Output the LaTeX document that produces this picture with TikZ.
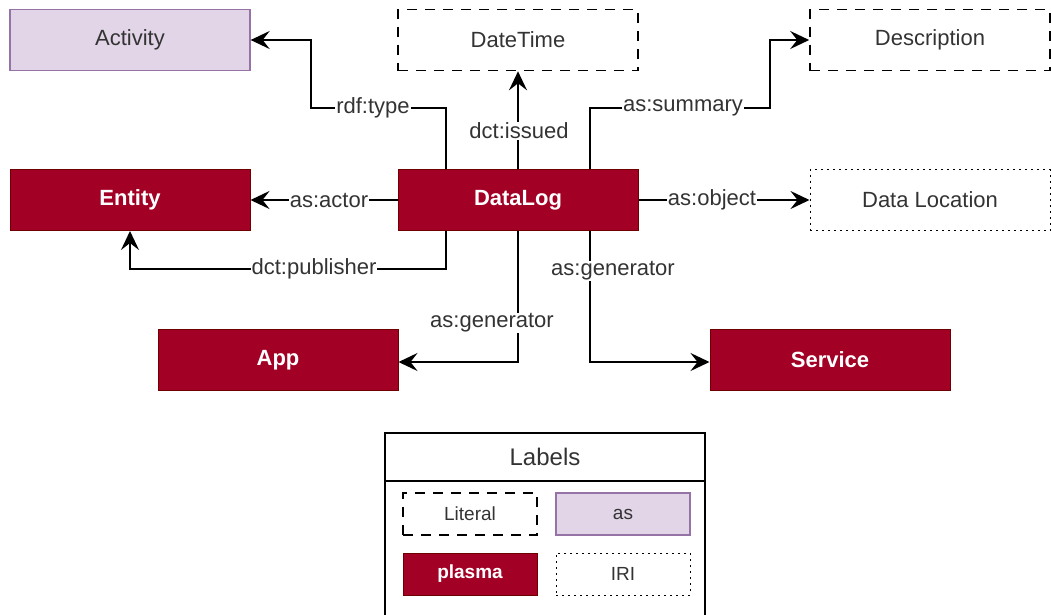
\documentclass[tikz,border=0pt]{standalone}
\usepackage{fontspec}
\setmainfont{Liberation Sans}
\usetikzlibrary{arrows.meta}

\definecolor{plasmared}{HTML}{A20025}
\definecolor{plasmaline}{HTML}{6F0000}
\definecolor{asfill}{HTML}{E1D5E7}
\definecolor{asline}{HTML}{9673A6}
\definecolor{txtgray}{HTML}{333333}

\tikzset{
	box/.style = {draw, minimum width=240pt, minimum height=61pt, inner sep=0pt,
		text=txtgray, line width=1pt, font=\fontsize{22}{26}\selectfont},
	plasma/.style = {box, fill=plasmared, draw=plasmaline, text=white,
		font=\fontsize{22}{26}\selectfont\bfseries},
	asclass/.style = {box, fill=asfill, draw=asline, line width=1.3pt},
	literal/.style = {box, dash pattern=on 10pt off 8pt, line width=1.6pt},
	iri/.style = {box, dash pattern=on 2pt off 4pt},
	lbl/.style = {fill=white, inner sep=1pt, text=txtgray, font=\fontsize{22}{26}\selectfont},
	arr/.style = {-{Stealth[length=19pt,width=18pt,inset=7pt]}, line width=2pt},
	legbox/.style = {minimum width=134pt, minimum height=42pt,
		font=\fontsize{19}{22}\selectfont},
}

\begin{document}
\begin{tikzpicture}[x=1pt, y=-1pt]
		\useasboundingbox (0,0) rectangle (1051,614);
		% classes
		\node[asclass] (act) at (130,40) {Activity};
		\node[literal] (time) at (518,40) {DateTime};
		\node[literal] (desc) at (930,40) {Description};
		\node[plasma] (ent) at (130,200) {Entity};
		\node[plasma] (log) at (518,200) {DataLog};
		\node[iri] (loc) at (930,200) {Data Location};
		\node[plasma] (app) at (278,360) {App};
		\node[plasma] (serv) at (830,360) {Service};
		% bend points
		\coordinate (typeA) at (446,108);
		\coordinate (typeB) at (311,40);
		\coordinate (sumA) at (590,108);
		\coordinate (sumB) at (770,40);
		\coordinate (pubA) at (446,269);
		\coordinate (genA) at (518,362);
		\coordinate (genB) at (590,362);
		% properties
		\draw[arr] ([xshift=-72pt]log.north) -- (typeA) -| (typeB) -- (act.east |- typeB);
		\draw[arr] (log.north) -- (time.south);
		\draw[arr] ([xshift=72pt]log.north) -- (sumA) -| (sumB) -- (desc.west |- sumB);
		\draw[arr] (log.west) -- (ent.east);
		\draw[arr] (log.east) -- (loc.west);
		\draw[arr] ([xshift=-72pt]log.south) -- (pubA) -| (ent.south);
		\draw[arr] (log.south) -- (genA) -- (app.east |- genA);
		\draw[arr] ([xshift=72pt]log.south) -- (genB) -- (serv.west |- genB);
		\node[lbl] (ltype) at (373,108) {rdf:type};
		\node[lbl] (lissued) at (519,131) {dct:issued};
		\node[lbl] (lsum) at (683,108) {as:summary};
		\node[lbl] (lactor) at (329,200) {as:actor};
		\node[lbl] (lobj) at (712,200) {as:object};
		\node[lbl] (lpub) at (314,269) {dct:publisher};
		\node[lbl] (lgenapp) at (492,323) {as:generator};
		\node[lbl] (lgenserv) at (613,271) {as:generator};
		% legend
		\draw[line width=1.6pt] (385,433) rectangle (705,625);
		\draw[line width=1.6pt] (385,481) -- (705,481);
		\node[font=\fontsize{24}{28}\selectfont, text=txtgray] (legtitle) at (545,457) {Labels};
		\node[literal, legbox] (legliteral) at (470,514) {Literal};
		\node[asclass, legbox] (legas) at (623,514) {as};
		\node[plasma, legbox, font=\fontsize{19}{22}\selectfont\bfseries] (legplasma) at (470,574) {plasma};
		\node[iri, legbox] (legiri) at (623,574) {IRI};
	\end{tikzpicture}
\end{document}
